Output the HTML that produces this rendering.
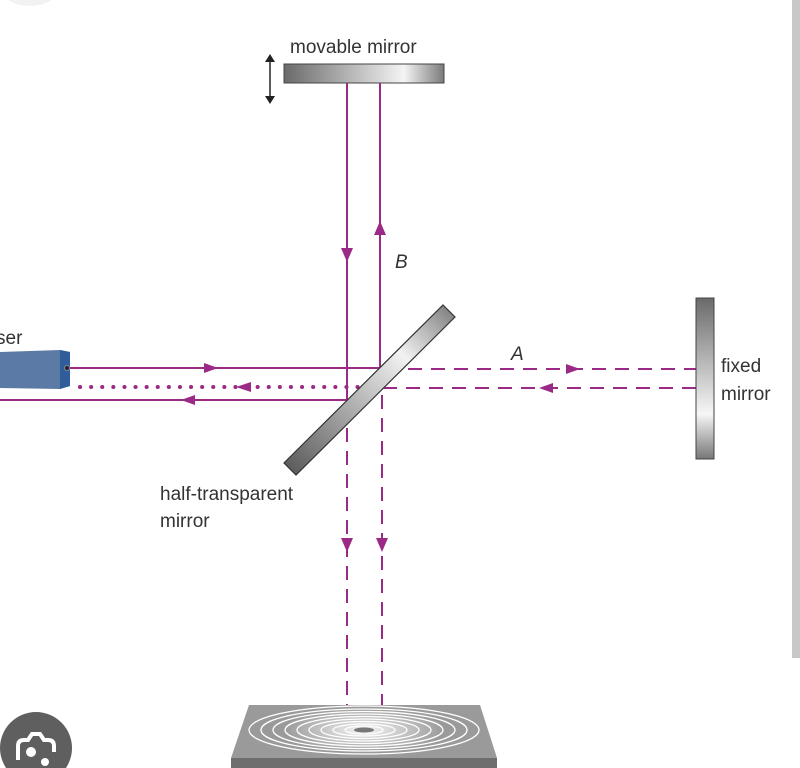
<!DOCTYPE html>
<html><head><meta charset="utf-8"><style>
html,body{margin:0;padding:0;background:#fff;}
svg{display:block;}
text{font-family:"Liberation Sans",sans-serif;fill:#333;}
</style></head><body>
<svg width="800" height="768" viewBox="0 0 800 768" xmlns="http://www.w3.org/2000/svg">
<defs>
<linearGradient id="mh" x1="0" x2="1" y1="0" y2="0">
<stop offset="0" stop-color="#6a6a6a"/><stop offset="0.75" stop-color="#f4f4f4"/><stop offset="1" stop-color="#7a7a7a"/>
</linearGradient>
<linearGradient id="fv" x1="0" x2="0" y1="0" y2="1">
<stop offset="0" stop-color="#6a6a6a"/><stop offset="0.72" stop-color="#f6f6f6"/><stop offset="1" stop-color="#777"/>
</linearGradient>
<linearGradient id="dg" x1="0" x2="1" y1="1" y2="0">
<stop offset="0" stop-color="#555"/><stop offset="0.7" stop-color="#f2f2f2"/><stop offset="1" stop-color="#777"/>
</linearGradient>
<radialGradient id="glow" cx="0.5" cy="0.5" r="0.5">
<stop offset="0" stop-color="#fff" stop-opacity="0.9"/><stop offset="1" stop-color="#fff" stop-opacity="0"/>
</radialGradient>
</defs>
<ellipse cx="30" cy="-8" rx="26" ry="14" fill="#f2f2f2"/>
<rect x="792" y="0" width="8" height="658" fill="#c8c8c8"/>

<!-- movable mirror -->
<text x="290" y="53" font-size="19">movable mirror</text>
<rect x="284" y="64" width="160" height="19" fill="url(#mh)" stroke="#444" stroke-width="1"/>
<line x1="270" y1="58" x2="270" y2="100" stroke="#222" stroke-width="1.5"/>
<path d="M265,62 L270,54 L275,62 Z M265,96 L270,104 L275,96 Z" fill="#222"/>

<g stroke="#9b2a86" stroke-width="2" fill="none">
<!-- vertical solid -->
<line x1="347" y1="83" x2="347" y2="400"/>
<line x1="380" y1="83" x2="380" y2="368"/>
<!-- laser horizontals -->
<line x1="70" y1="368" x2="380" y2="368"/>
<line x1="0" y1="400" x2="347" y2="400"/>
<line x1="80" y1="387" x2="362" y2="387" stroke-width="4" stroke-dasharray="0.1 11" stroke-linecap="round"/>
<!-- dashed horizontals -->
<line x1="385" y1="369" x2="697" y2="369" stroke-dasharray="14 9"/>
<line x1="383" y1="388" x2="697" y2="388" stroke-dasharray="14 9"/>
<!-- dashed verticals -->
<line x1="347" y1="405" x2="347" y2="735" stroke-dasharray="14 9"/>
<line x1="382" y1="395" x2="382" y2="735" stroke-dasharray="14 9"/>
</g>
<g fill="#9b2a86">
<path d="M341,248 L347,262 L353,248 Z"/>
<path d="M374,235 L380,221 L386,235 Z"/>
<path d="M204,363 L218,368 L204,373 Z"/>
<path d="M251,382 L236,387 L251,392 Z"/>
<path d="M195,395 L181,400 L195,405 Z"/>
<path d="M566,364 L580,369 L566,374 Z"/>
<path d="M553,383 L539,388 L553,393 Z"/>
<path d="M341,538 L347,552 L353,538 Z"/>
<path d="M376,538 L382,552 L388,538 Z"/>
</g>

<!-- beamsplitter -->
<polygon points="443,305 455,317 296,475 284,463" fill="url(#dg)" stroke="#333" stroke-width="1.2"/>

<!-- laser -->
<polygon points="0,352 60,350 70,352 70,386 60,389 0,388" fill="#5b7aa6"/>
<polygon points="60,350 70,352 70,386 60,389" fill="#2e5d9a"/>
<circle cx="67" cy="368" r="2.5" fill="#223" stroke="#889" stroke-width="1"/>
<text x="-4" y="344" font-size="19">ser</text>

<!-- fixed mirror -->
<rect x="696" y="298" width="18" height="161" fill="url(#fv)" stroke="#444" stroke-width="1"/>
<text x="721" y="372" font-size="19">fixed</text>
<text x="721" y="400" font-size="19">mirror</text>

<text x="395" y="268" font-size="19" font-style="italic">B</text>
<text x="511" y="360" font-size="19" font-style="italic">A</text>
<text x="160" y="500" font-size="19">half-transparent</text>
<text x="160" y="527" font-size="19">mirror</text>

<!-- detector -->
<polygon points="249,705 480,705 497,758 231,758" fill="#9a9a9a"/>
<rect x="231" y="758" width="266" height="10" fill="#6e6e6e"/>
<ellipse cx="364" cy="730" rx="80" ry="22" fill="url(#glow)"/>
<g fill="none" stroke="#fff" stroke-width="1.3">
<ellipse cx="364" cy="730" rx="115" ry="24"/>
<ellipse cx="364" cy="730" rx="103" ry="21"/>
<ellipse cx="364" cy="730" rx="91" ry="18.5"/>
<ellipse cx="364" cy="730" rx="79" ry="16"/>
<ellipse cx="364" cy="730" rx="67" ry="13.5"/>
<ellipse cx="364" cy="730" rx="55" ry="11"/>
<ellipse cx="364" cy="730" rx="43" ry="8.5"/>
<ellipse cx="364" cy="730" rx="31" ry="6"/>
<ellipse cx="364" cy="730" rx="19" ry="4"/>
</g>
<ellipse cx="364" cy="730" rx="10" ry="2.5" fill="#777"/>

<!-- lens icon -->
<circle cx="36" cy="748" r="36" fill="#5f5f5f"/>
<path d="M18,760 L18,746 Q18,740 24,740 L28,740 L32,734 L40,734 L44,740 L48,740 Q54,740 54,746 L54,752" fill="none" stroke="#fff" stroke-width="4"/>
<circle cx="31" cy="752" r="5" fill="#fff"/>
<circle cx="45" cy="762" r="4" fill="#fff"/>
</svg>
</body></html>
